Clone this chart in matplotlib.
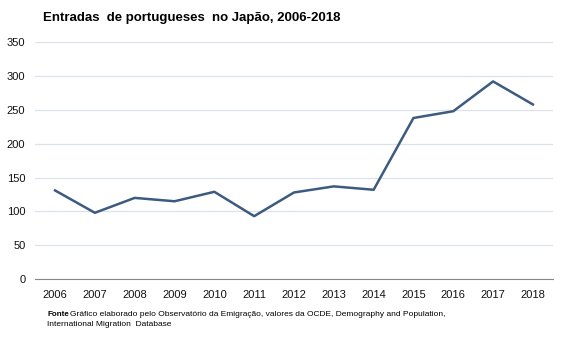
import matplotlib.pyplot as plt

years = ['2006', '2007', '2008', '2009', '2010', '2011', '2012',
         '2013', '2014', '2015', '2016', '2017', '2018']
entradas = [131, 98, 120, 115, 129, 93, 128, 137, 132, 238, 248, 292, 258]
yticks = [0, 50, 100, 150, 200, 250, 300, 350]

plt.rcParams['font.family'] = ['Liberation Sans', 'DejaVu Sans']

fig = plt.figure(figsize=(5.67, 3.40), dpi=100)
ax = fig.add_axes([0.062, 0.179, 0.913, 0.697])

ax.plot(range(len(years)), entradas, color='#3d5a80', linewidth=1.8)

ax.set_xlim(-0.5, len(years) - 0.5)
ax.set_ylim(0, 350)
ax.set_xticks(range(len(years)))
ax.set_xticklabels(years)
ax.set_yticks(yticks)
ax.grid(axis='y', color='#dde2e8', linewidth=0.9)
ax.set_axisbelow(True)
for s in ['top', 'right', 'left']:
    ax.spines[s].set_visible(False)
ax.spines['bottom'].set_color('#888888')
ax.tick_params(axis='both', length=0, labelsize=8, colors='#111111')
ax.tick_params(axis='x', pad=8)
ax.tick_params(axis='y', pad=7)

fig.text(43 / 567, 1 - 18 / 340, 'Entradas  de portugueses  no Japão, 2006-2018',
         fontsize=9.5, fontweight='bold', va='center', ha='left')
fig.text(47 / 567, 1 - 315 / 340, 'Fonte', fontsize=5.8, fontweight='bold',
         va='center', ha='left')
fig.text(70 / 567, 1 - 315 / 340,
         'Gráfico elaborado pelo Observatório da Emigração, valores da OCDE, Demography and Population,',
         fontsize=6, va='center', ha='left')
fig.text(47 / 567, 1 - 325 / 340, 'International Migration  Database',
         fontsize=6, va='center', ha='left')

fig.savefig('out.png', dpi=100)
